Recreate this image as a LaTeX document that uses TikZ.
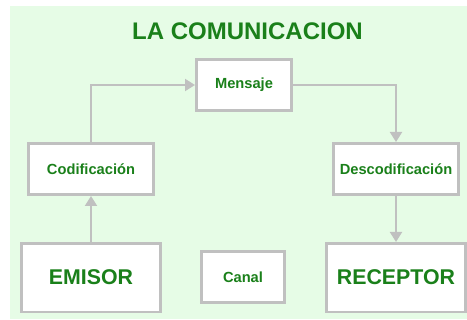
\documentclass[tikz,border=0pt]{standalone}
\usepackage{fontspec}
\setmainfont{Liberation Sans}
\usepackage{tikz}
\usepackage{xcolor}
\usetikzlibrary{
    arrows.meta,
    calc,
    positioning
}
\definecolor{fondo}{RGB}{230,252,230}
\definecolor{verde}{RGB}{26,128,26}
\definecolor{gris}{RGB}{192,192,192}
\tikzset{
    caja/.style={draw=gris, line width=1.9pt, fill=white, text=verde,
        font=\bfseries\fontsize{11}{13}\selectfont,
        inner sep=0pt, minimum height=38.6pt},
    grande/.style={caja, font=\bfseries\fontsize{16}{19}\selectfont,
        minimum width=103.9pt, minimum height=51.4pt},
    flecha/.style={draw=gris, line width=1.5pt,
        -{Triangle[length=7.5pt,width=9pt]}}
}

\begin{document}
\begin{tikzpicture}[x=0.75pt, y=-0.75pt]
                        \useasboundingbox (0, 0) rectangle (467, 320);
                        \fill[fondo] (10, 6) rectangle (467, 319);
                        \node[text=verde, font=\bfseries\fontsize{18}{21}\selectfont] (titulo) at (247.5, 31) {LA COMUNICACION};
                        \node[caja, minimum width=71.6pt] (mensaje) at (244, 85) {Mensaje};
                        \node[caja, minimum width=93.4pt] (codif) at (91, 169) {Codificación};
                        \node[caja, minimum width=93.4pt] (descod) at (396, 169) {Descodificación};
                        \node[grande] (emisor) at (91, 277.5) {EMISOR};
                        \node[caja, minimum width=62.6pt] (canal) at (243, 277) {Canal};
                        \node[grande] (receptor) at (396, 277.5) {RECEPTOR};
                        \draw[flecha] (emisor) -- (codif);
                        \draw[flecha] (codif) |- (mensaje);
                        \draw[flecha] (mensaje) -| (descod);
                        \draw[flecha] (descod) -- (receptor);
                    \end{tikzpicture}
\end{document}
